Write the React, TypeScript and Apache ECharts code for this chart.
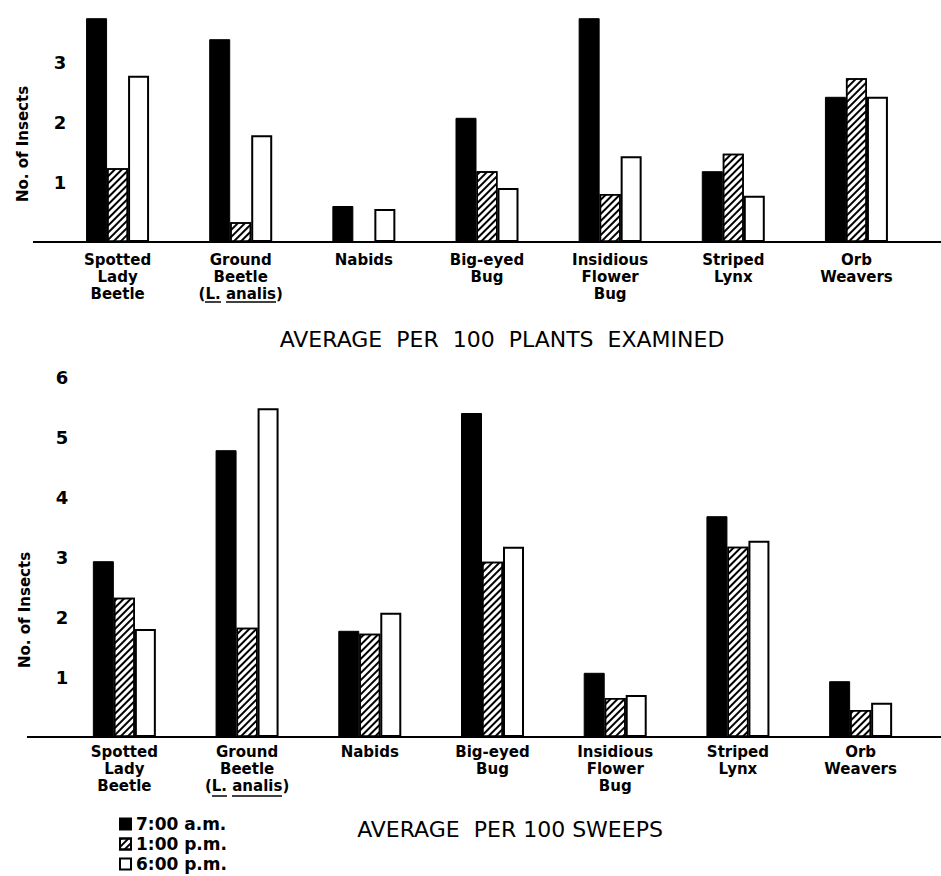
import React, { useEffect, useRef } from "react";
import * as echarts from "echarts";

const categories = [
  "Spotted\nLady\nBeetle",
  "Ground\nBeetle\n(L. analis)",
  "Nabids",
  "Big-eyed\nBug",
  "Insidious\nFlower\nBug",
  "Striped\nLynx",
  "Orb\nWeavers",
];
const seriesNames = ["7:00 a.m.", "1:00 p.m.", "6:00 p.m."];

// Average per 100 plants examined
const plants7am = [3.73, 3.38, 0.6, 2.07, 3.73, 1.18, 2.42];
const plants1pm = [1.23, 0.33, 0, 1.18, 0.8, 1.47, 2.73];
const plants6pm = [2.77, 1.78, 0.55, 0.9, 1.43, 0.77, 2.42];

// Average per 100 sweeps
const sweeps7am = [2.93, 4.78, 1.77, 5.4, 1.07, 3.68, 0.93];
const sweeps1pm = [2.32, 1.82, 1.72, 2.92, 0.65, 3.17, 0.45];
const sweeps6pm = [1.8, 5.48, 2.07, 3.17, 0.7, 3.27, 0.57];

const topTickLabels = ["1", "2", "3"];
const bottomTickLabels = ["1", "2", "3", "4", "5", "6"];

const topTitle = "AVERAGE  PER  100  PLANTS  EXAMINED";
const bottomTitle = "AVERAGE  PER 100 SWEEPS";
const yName = "No. of Insects";

const FONT = "DejaVu Sans";

const hatch = {
  symbol: "rect",
  symbolSize: 1,
  dashArrayX: [1, 0],
  dashArrayY: [2, 3],
  rotation: -Math.PI / 4,
  color: "#000",
};

const styles = [
  { color: "#000", borderColor: "#000", borderWidth: 1 },
  { color: "#fff", borderColor: "#000", borderWidth: 1.5, decal: hatch },
  { color: "#fff", borderColor: "#000", borderWidth: 2 },
];

export default function App() {
  const ref = useRef<HTMLDivElement>(null);
  useEffect(() => {
    if (!ref.current) return;
    const chart = echarts.init(ref.current, null, { renderer: "svg" });
    const catLabel = (margin: number) => ({
      interval: 0,
      margin,
      color: "#000",
      fontFamily: FONT,
      fontWeight: "bold",
      fontSize: 15,
      lineHeight: 17,
      verticalAlign: "top",
    });
    const valLabel = (ticks: string[], margin: number) => ({
      margin,
      align: "center",
      color: "#000",
      fontFamily: FONT,
      fontWeight: "bold",
      fontSize: 18,
      formatter: (v: number) => (ticks.includes(String(v)) ? String(v) : ""),
    });
    const data = [
      [plants7am, plants1pm, plants6pm],
      [sweeps7am, sweeps1pm, sweeps6pm],
    ];
    const series: any[] = [];
    data.forEach((group, gi) => {
      group.forEach((vals, si) => {
        series.push({
          type: "bar",
          name: seriesNames[si],
          xAxisIndex: gi,
          yAxisIndex: gi,
          data: vals,
          barWidth: 21,
          barGap: "0%",
          itemStyle: styles[si],
          emphasis: { disabled: true },
        });
      });
    });
    const underline = (x1: number, x2: number, y: number) => ({
      type: "line",
      shape: { x1, y1: y, x2, y2: y },
      style: { stroke: "#000", lineWidth: 1.5 },
    });
    chart.setOption({
      animation: false,
      grid: [
        { left: 56, width: 862, top: 2, height: 240 },
        { left: 63, width: 859, top: 377, height: 360 },
      ],
      xAxis: [
        {
          type: "category",
          gridIndex: 0,
          data: categories,
          axisTick: { show: false },
          axisLine: { lineStyle: { color: "#000", width: 2 } },
          axisLabel: catLabel(9),
        },
        {
          type: "category",
          gridIndex: 1,
          data: categories,
          axisTick: { show: false },
          axisLine: { lineStyle: { color: "#000", width: 2 } },
          axisLabel: catLabel(6),
        },
      ],
      yAxis: [
        {
          type: "value",
          gridIndex: 0,
          min: 0,
          max: 4,
          interval: 1,
          axisLine: { show: false },
          axisTick: { show: false },
          splitLine: { show: false },
          axisLabel: valLabel(topTickLabels, -4),
        },
        {
          type: "value",
          gridIndex: 1,
          min: 0,
          max: 6,
          interval: 1,
          axisLine: { show: false },
          axisTick: { show: false },
          splitLine: { show: false },
          axisLabel: valLabel(bottomTickLabels, 1),
        },
      ],
      legend: {
        data: seriesNames,
        orient: "vertical",
        left: 119,
        top: 815,
        padding: 0,
        icon: "rect",
        itemWidth: 11,
        itemHeight: 11,
        itemGap: 2,
        selectedMode: false,
        textStyle: {
          color: "#000",
          fontFamily: FONT,
          fontWeight: "bold",
          fontSize: 17,
          lineHeight: 18,
        },
      },
      graphic: [
        {
          type: "line",
          shape: { x1: 33, y1: 242, x2: 941, y2: 242 },
          style: { stroke: "#000", lineWidth: 2 },
        },
        {
          type: "line",
          shape: { x1: 27, y1: 737, x2: 941, y2: 737 },
          style: { stroke: "#000", lineWidth: 2 },
        },
        underline(205, 221, 302),
        underline(226, 276, 302),
        underline(212, 227, 796),
        underline(232, 282, 796),
        {
          type: "text",
          x: 23,
          y: 144,
          rotation: Math.PI / 2,
          style: {
            text: yName,
            align: "center",
            verticalAlign: "middle",
            font: `bold 15px "${FONT}"`,
            fill: "#000",
          },
        },
        {
          type: "text",
          x: 25,
          y: 610,
          rotation: Math.PI / 2,
          style: {
            text: yName,
            align: "center",
            verticalAlign: "middle",
            font: `bold 15px "${FONT}"`,
            fill: "#000",
          },
        },
        {
          type: "text",
          x: 502,
          y: 339,
          style: {
            text: topTitle,
            align: "center",
            verticalAlign: "middle",
            font: `22px "${FONT}"`,
            fill: "#000",
          },
        },
        {
          type: "text",
          x: 510,
          y: 829,
          style: {
            text: bottomTitle,
            align: "center",
            verticalAlign: "middle",
            font: `22px "${FONT}"`,
            fill: "#000",
          },
        },
      ],
      series,
    });
    return () => chart.dispose();
  }, []);
  return (
    <div
      ref={ref}
      style={{ position: "fixed", left: 0, top: 0, width: 941, height: 876, background: "#fff" }}
    />
  );
}
